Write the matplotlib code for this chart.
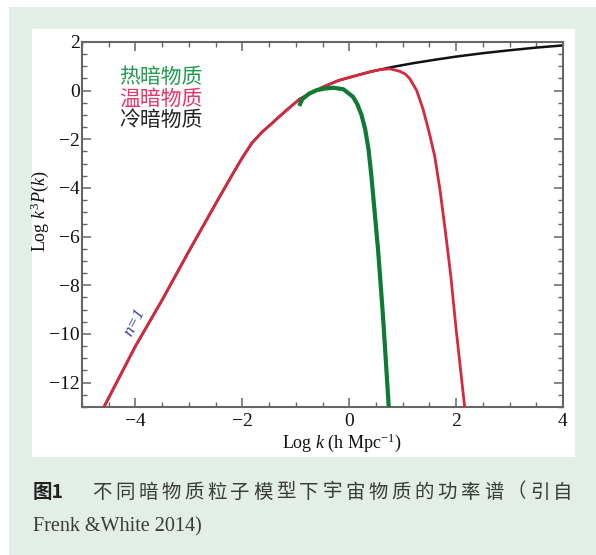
import matplotlib
matplotlib.use("Agg")
import matplotlib.pyplot as plt
import matplotlib.ticker as ticker
from matplotlib.patches import Rectangle

# ---- data (log k, log k^3 P(k)) ----
wdm_logk = [-4.59, -4.0, -3.5, -3.0, -2.5, -2.2, -2.0, -1.82, -1.64, -1.45,
            -1.3, -1.12, -0.93, -0.7, -0.5, -0.2, 0.13, 0.4, 0.57, 0.76,
            0.94, 1.05, 1.13, 1.26, 1.38, 1.5, 1.6, 1.7, 1.8, 1.9, 2.0,
            2.08, 2.16]
wdm_p = [-13.0, -10.5, -8.6, -6.6, -4.65, -3.5, -2.75, -2.15, -1.72, -1.35,
         -1.05, -0.7, -0.35, -0.08, 0.14, 0.42, 0.62, 0.78, 0.86, 0.9,
         0.8, 0.68, 0.5, 0.02, -0.75, -1.75, -2.7, -4.1, -5.8, -7.6, -9.8,
         -11.4, -13.0]

hdm_logk = [-0.92, -0.88, -0.75, -0.61, -0.45, -0.3, -0.11, 0.07, 0.15,
            0.23, 0.30, 0.36, 0.41, 0.46, 0.54, 0.63, 0.74]
hdm_p = [-0.55, -0.35, -0.12, 0.02, 0.09, 0.12, 0.06, -0.25, -0.55,
         -1.0, -1.6, -2.4, -3.4, -4.6, -6.55, -9.2, -13.0]

# cold dark matter follows the warm curve on large scales, then keeps rising
cdm_tail_logk = [0.8, 1.2, 1.6, 2.0, 2.5, 3.0, 3.5, 4.0]
cdm_tail_p = [0.97, 1.13, 1.27, 1.40, 1.54, 1.66, 1.77, 1.86]

legend_labels = ["热暗物质", "温暗物质", "冷暗物质"]
legend_colors = ["#1f9a4e", "#e8336a", "#222222"]

caption_head = "图1"
caption_line1 = "不同暗物质粒子模型下宇宙物质的功率谱（引自"
caption_line2 = "Frenk &White 2014)"

plt.rcParams.update({
    "font.family": ["Liberation Serif", "DejaVu Serif"],
    "mathtext.fontset": "custom",
    "mathtext.rm": "Liberation Serif",
    "mathtext.it": "Liberation Serif:italic",
    "axes.unicode_minus": True,
})

W, H = 596, 555
fig = plt.figure(figsize=(W / 100, H / 100), dpi=100)
fig.patch.set_facecolor("white")


def fx(px):
    return px / W


def fy(py):
    return 1 - py / H


# mint background and white panel
fig.add_artist(Rectangle((fx(9), 0), fx(596) - fx(9), fy(7),
                         transform=fig.transFigure, facecolor="#e2eee6",
                         edgecolor="none", zorder=-3))
fig.add_artist(Rectangle((fx(32), fy(457)), fx(575) - fx(32), fy(29) - fy(457),
                         transform=fig.transFigure, facecolor="white",
                         edgecolor="none", zorder=-2))

ax = fig.add_axes([fx(82), fy(407), fx(563) - fx(82), fy(42) - fy(407)])
ax.set_facecolor("white")

split = wdm_logk.index(0.57) + 1
cdm_logk = wdm_logk[:split] + cdm_tail_logk
cdm_p = wdm_p[:split] + cdm_tail_p

ax.plot(cdm_logk, cdm_p, color="#111111", lw=1.8, zorder=2)
ax.plot(wdm_logk, wdm_p, color="#d6283f", lw=2.0, zorder=3)
ax.plot(hdm_logk, hdm_p, color="#0f7a33", lw=3.0, zorder=4)

ax.set_xlim(-5, 4)
ax.set_ylim(-13, 2)
ax.xaxis.set_major_locator(ticker.MultipleLocator(2))
ax.xaxis.set_minor_locator(ticker.MultipleLocator(0.5))
ax.yaxis.set_major_locator(ticker.MultipleLocator(2))
ax.yaxis.set_minor_locator(ticker.MultipleLocator(0.5))

ax.tick_params(which="both", direction="in", top=True, right=True,
               color="#666666", labelsize=14, labelcolor="#111111")
ax.tick_params(which="major", length=6.5, width=1.1)
ax.tick_params(which="minor", length=3.6, width=1.0)
ax.tick_params(axis="x", pad=4.5)
ax.tick_params(axis="y", pad=1.5)
for s in ax.spines.values():
    s.set_color("#666666")
    s.set_linewidth(1.5)

# axis labels
fig.text(fx(342), fy(443), r"Log $k$ (h Mpc$^{-1}$)", ha="center", va="center",
         fontsize=13, color="#111111")
fig.text(fx(40), fy(211), r"Log $k^3P$($k$)", ha="center", va="center",
         rotation=90, fontsize=13, color="#111111")

# n=1 slope note
ax.text(-4.02, -9.5, "n=1", rotation=62, ha="center", va="center",
        fontsize=12.5, style="italic", color="#3b3b9c")

# coloured labels
for i, (lab, col) in enumerate(zip(legend_labels, legend_colors)):
    ax.text(0.077, 0.903 - i * 0.058, lab, transform=ax.transAxes,
            ha="left", va="center", fontsize=15, color=col,
            family=["Noto Sans CJK SC", "DejaVu Sans"])

# caption
fig.text(fx(33), fy(492), caption_head, ha="left", va="center", fontsize=14,
         fontweight="bold", color="#222222",
         family=["Noto Sans CJK SC", "DejaVu Sans"])
for i, ch in enumerate(caption_line1):
    fig.text(fx(92 + i * 23.05), fy(492), ch, ha="left", va="center",
             fontsize=14, color="#3a3a3a",
             family=["Noto Sans CJK SC", "DejaVu Sans"])
fig.text(fx(33), fy(527), caption_line2, ha="left", va="center",
         fontsize=14.5, color="#3a3a3a")

fig.savefig("out.png", dpi=100)
